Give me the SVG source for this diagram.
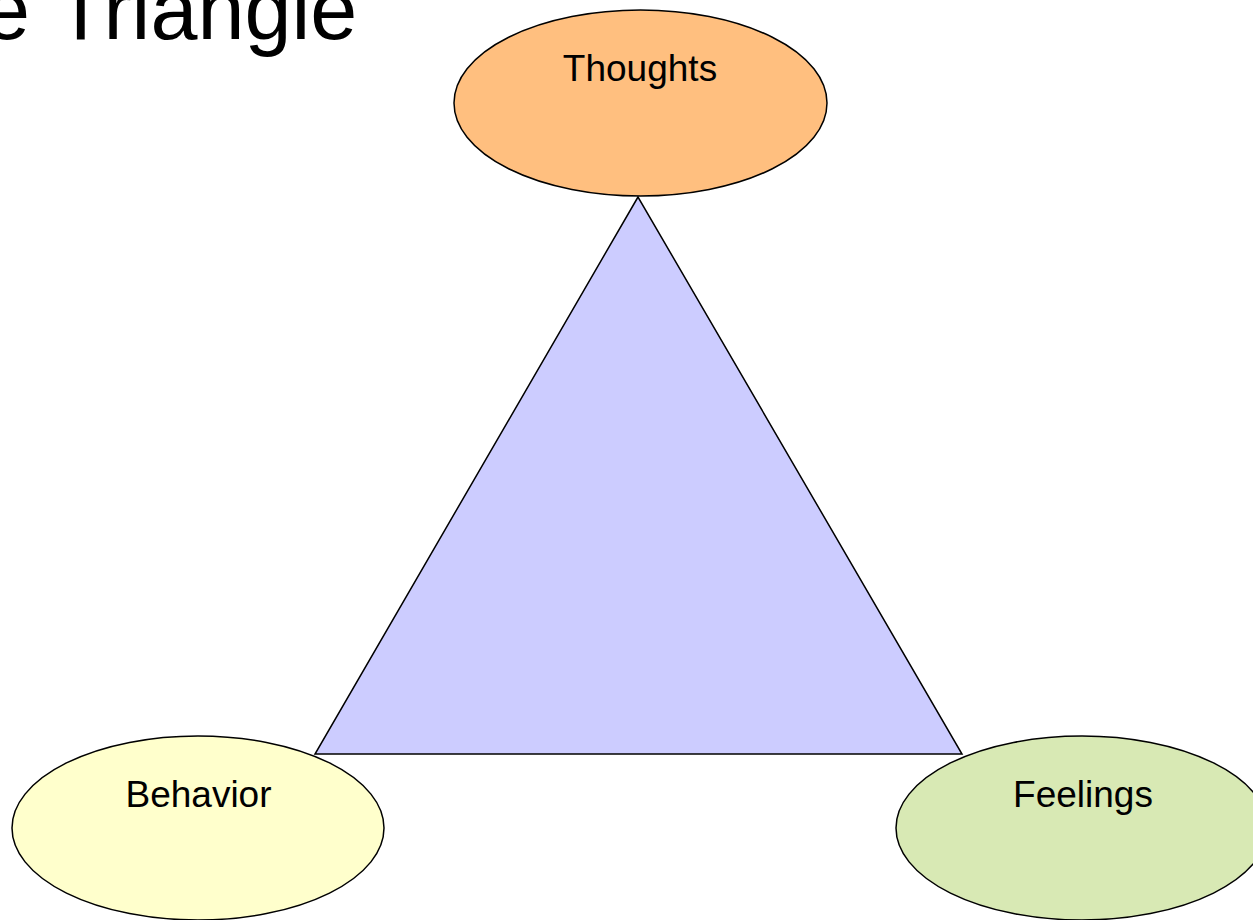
<svg xmlns="http://www.w3.org/2000/svg" width="1253" height="920" viewBox="0 0 1253 920">
<style>
.lbl{font-family:"Liberation Sans",Arial,sans-serif;font-size:37px;fill:#000;text-anchor:middle}
.node{stroke:#000;stroke-width:1.5}
</style>
<rect width="1253" height="920" fill="#fff"/>
<text x="-17" y="39" style="font-family:'Liberation Sans',Arial,sans-serif;font-size:84.5px" fill="#000">e<tspan x="55">Triangle</tspan></text>
<g id="connectors">
<polygon points="638,197 315,754 962,754" fill="#CCCCFF" stroke="#000" stroke-width="1.5" stroke-linejoin="miter"/>
</g>
<g id="thoughts">
<ellipse class="node" cx="640.5" cy="103" rx="186.5" ry="93" fill="#FFBF7F"/>
<text class="lbl" x="640" y="81">Thoughts</text>
</g>
<g id="behavior">
<ellipse class="node" cx="198" cy="828" rx="186" ry="92" fill="#FFFFCC"/>
<text class="lbl" x="198.5" y="807">Behavior</text>
</g>
<g id="feelings">
<ellipse class="node" cx="1082" cy="828" rx="186" ry="92" fill="#D8E9B4"/>
<text class="lbl" x="1083" y="807">Feelings</text>
</g>
</svg>
